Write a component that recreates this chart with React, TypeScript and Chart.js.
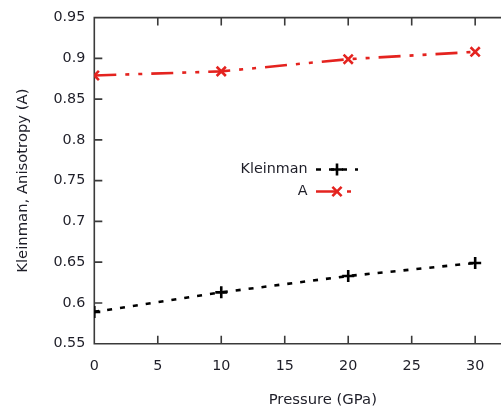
import React, { useEffect, useRef } from "react";
import { Chart, registerables } from "chart.js";

Chart.register(...registerables);

const pressure = [0, 10, 20, 30];
const kleinman = [0.589, 0.613, 0.633, 0.649];
const anisotropy = [0.879, 0.884, 0.899, 0.908];
const seriesNames = ["Kleinman", "A"];
const xTitle = "Pressure (GPa)";
const yTitle = "Kleinman, Anisotropy (A)";

const FONT = "'DejaVu Sans', Verdana, sans-serif";
const TEXT = "#1e1e28";

const framePlugin = {
  id: "frame",
  beforeDatasetsDraw(chart: any) {
    const { ctx, chartArea, scales } = chart;
    const { left, right, top, bottom } = chartArea;
    const x = scales.x;
    const y = scales.y;
    ctx.save();
    ctx.strokeStyle = "#3a3a3a";
    ctx.lineWidth = 1.6;
    ctx.beginPath();
    ctx.moveTo(left, top);
    ctx.lineTo(right, top);
    ctx.lineTo(right, bottom);
    ctx.lineTo(left, bottom);
    ctx.closePath();
    const tl = 8;
    x.ticks.forEach((t: any) => {
      const px = x.getPixelForValue(t.value);
      ctx.moveTo(px, bottom);
      ctx.lineTo(px, bottom - tl);
      ctx.moveTo(px, top);
      ctx.lineTo(px, top + tl);
    });
    y.ticks.forEach((t: any) => {
      const py = y.getPixelForValue(t.value);
      ctx.moveTo(left, py);
      ctx.lineTo(left + tl, py);
      ctx.moveTo(right, py);
      ctx.lineTo(right - tl, py);
    });
    ctx.stroke();
    ctx.restore();
  },
};

function drawMarker(ctx: CanvasRenderingContext2D, style: string, cx: number, cy: number, r: number) {
  ctx.beginPath();
  if (style === "cross") {
    ctx.moveTo(cx - r, cy);
    ctx.lineTo(cx + r, cy);
    ctx.moveTo(cx, cy - r);
    ctx.lineTo(cx, cy + r);
  } else {
    const d = r * Math.SQRT1_2;
    ctx.moveTo(cx - d, cy - d);
    ctx.lineTo(cx + d, cy + d);
    ctx.moveTo(cx - d, cy + d);
    ctx.lineTo(cx + d, cy - d);
  }
  ctx.stroke();
}

const legendPlugin = {
  id: "gpLegend",
  afterDraw(chart: any) {
    const { ctx } = chart;
    const textRight = 307.5;
    const lineStart = 316;
    const lineEnd = 358;
    const rowY = [169.5, 191.5];
    ctx.save();
    chart.data.datasets.forEach((ds: any, i: number) => {
      const yy = rowY[i];
      ctx.font = `14.3px ${FONT}`;
      ctx.fillStyle = TEXT;
      ctx.textAlign = "right";
      ctx.textBaseline = "middle";
      ctx.fillText(ds.label, textRight, yy);
      ctx.strokeStyle = ds.borderColor;
      ctx.lineWidth = ds.borderWidth;
      ctx.setLineDash(ds.borderDash || []);
      ctx.beginPath();
      ctx.moveTo(lineStart, yy);
      ctx.lineTo(lineEnd, yy);
      ctx.stroke();
      ctx.setLineDash([]);
      ctx.lineWidth = ds.pointBorderWidth;
      drawMarker(ctx, ds.pointStyle, (lineStart + lineEnd) / 2, yy, ds.pointRadius);
    });
    ctx.restore();
  },
};

export default function App() {
  const ref = useRef<HTMLCanvasElement | null>(null);

  useEffect(() => {
    if (!ref.current) return;
    const chart = new Chart(ref.current, {
      type: "line",
      data: {
        datasets: [
          {
            label: seriesNames[0],
            data: pressure.map((p, i) => ({ x: p, y: kleinman[i] })),
            borderColor: "#000000",
            backgroundColor: "#000000",
            borderWidth: 2.6,
            borderDash: [5, 8],
            borderCapStyle: "butt",
            pointStyle: "cross",
            pointRadius: 6,
            pointBorderWidth: 2.6,
            pointBorderColor: "#000000",
            fill: false,
            tension: 0,
          },
          {
            label: seriesNames[1],
            data: pressure.map((p, i) => ({ x: p, y: anisotropy[i] })),
            borderColor: "#e4231f",
            backgroundColor: "#e4231f",
            borderWidth: 2.6,
            borderDash: [22, 9, 4, 9, 4, 9],
            borderCapStyle: "butt",
            pointStyle: "crossRot",
            pointRadius: 6.5,
            pointBorderWidth: 2.6,
            pointBorderColor: "#e4231f",
            fill: false,
            tension: 0,
          },
        ],
      },
      options: {
        responsive: false,
        animation: false,
        devicePixelRatio: 1,
        layout: { padding: { top: 16, left: 0, right: 0, bottom: 0 } },
        plugins: {
          legend: { display: false },
          tooltip: { enabled: false },
        },
        scales: {
          x: {
            type: "linear",
            min: 0,
            max: 36,
            afterFit: (s: any) => {
              s.height = 65.3;
            },
            grid: { display: false, drawTicks: false },
            border: { display: false },
            ticks: {
              stepSize: 5,
              includeBounds: false,
              autoSkip: false,
              maxRotation: 0,
              padding: 14,
              color: TEXT,
              font: { family: FONT, size: 14.3 },
            },
            title: {
              display: true,
              text: xTitle,
              color: TEXT,
              font: { family: FONT, size: 14.8 },
              padding: { top: 6, bottom: 0 },
            },
          },
          y: {
            type: "linear",
            min: 0.55,
            max: 0.95,
            afterFit: (s: any) => {
              s.width = 94.3;
            },
            grid: { display: false, drawTicks: false },
            border: { display: false },
            ticks: {
              stepSize: 0.05,
              padding: 9,
              color: TEXT,
              font: { family: FONT, size: 14.3 },
              callback: (v: any) => String(Number(Number(v).toFixed(2))),
            },
            title: {
              display: true,
              text: yTitle,
              color: TEXT,
              font: { family: FONT, size: 14.8 },
              padding: { top: 14, bottom: 0 },
            },
          },
        },
      } as any,
      plugins: [framePlugin, legendPlugin],
    });
    return () => chart.destroy();
  }, []);

  return (
    <div
      style={{
        position: "fixed",
        left: 0,
        top: 0,
        width: 501,
        height: 409,
        overflow: "hidden",
        background: "#ffffff",
      }}
    >
      <canvas ref={ref} width={562} height={409} style={{ display: "block" }} />
    </div>
  );
}
